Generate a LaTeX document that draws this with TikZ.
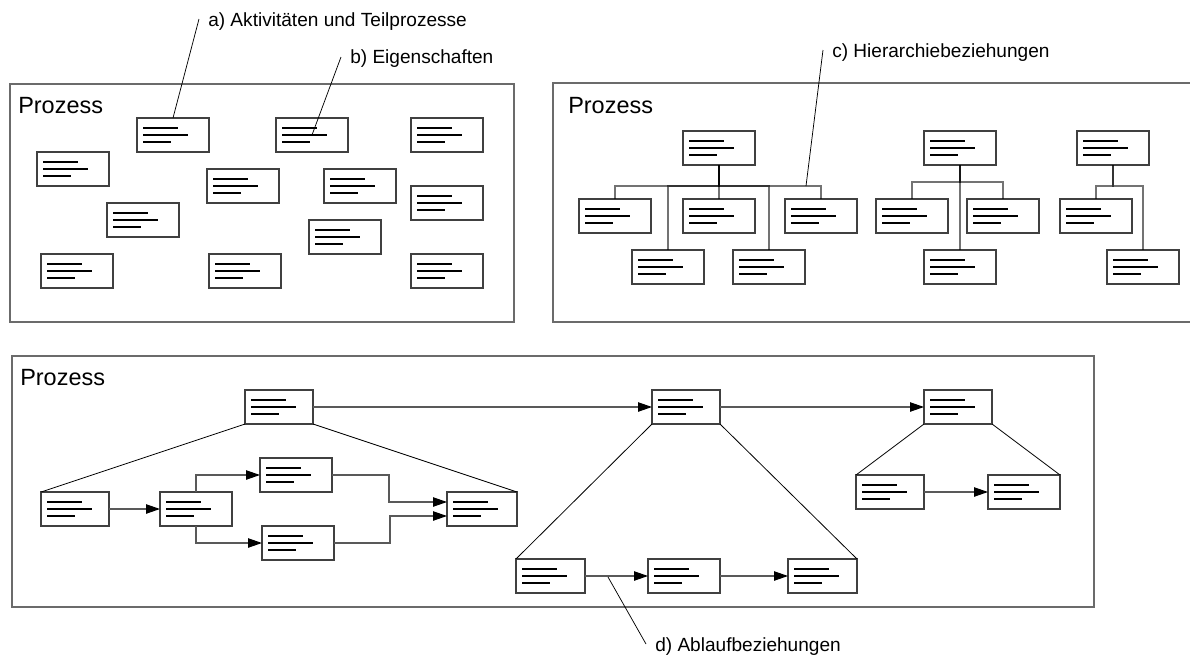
\documentclass[tikz,border=0pt]{standalone}
\usepackage{fontspec}
\setmainfont{Liberation Sans}
\usetikzlibrary{arrows.meta}

\tikzset{
  % activity box with three text bars
  act/.style={rectangle, draw=black!75, line width=0.8pt, inner sep=0pt, outer sep=0pt,
    anchor=north west, minimum width=#1*0.75pt, minimum height=25.5pt,
    path picture={
      \draw[line width=1.5pt, black]
        ([shift={(6,10)}]path picture bounding box.north west) -- ++(35,0)
        ([shift={(6,17)}]path picture bounding box.north west) -- ++(45,0)
        ([shift={(6,24)}]path picture bounding box.north west) -- ++(28,0);}},
  act/.default=72,
  frame/.style={draw=black!58, line width=1.1pt},
  ptitle/.style={anchor=base west, inner sep=0pt, font=\fontsize{17.6}{20}\selectfont},
  callout/.style={anchor=base west, inner sep=0pt, font=\fontsize{14.3}{17}\selectfont},
  lead/.style={draw=black, line width=0.55pt},
  tie/.style={draw=black, draw opacity=0.55, line width=0.8pt},
  span/.style={draw=black, line width=0.6pt},
  flow/.style={draw=black!65, line width=0.8pt,
    -{Triangle[length=10.4pt, width=7pt, color=black]}},
}

\begin{document}
\begin{tikzpicture}[x=0.75pt, y=-0.75pt]
\useasboundingbox (0,0) rectangle (1190,657);

% ---------- panel a/b: loose activities ----------
\draw[frame] (10,84) rectangle (514,322);
\node[ptitle] (p1) at (18,113) {Prozess};
\node[act] (a1)  at (137,118) {};
\node[act] (a2)  at (276,118) {};
\node[act] (a3)  at (411,118) {};
\node[act] (a4)  at (37,152)  {};
\node[act] (a5)  at (207,169) {};
\node[act] (a6)  at (324,169) {};
\node[act] (a7)  at (411,186) {};
\node[act] (a8)  at (107,203) {};
\node[act] (a9)  at (309,220) {};
\node[act] (a10) at (41,254)  {};
\node[act] (a11) at (209,254) {};
\node[act] (a12) at (411,254) {};

\node[callout] (la) at (208,26) {a) Aktivitäten und Teilprozesse};
\node[callout] (lb) at (350,63) {b) Eigenschaften};
\coordinate (ka) at (199,19);
\coordinate (kb) at (341,57);
\draw[lead] (ka) -- (a1.north);
\draw[lead] (kb) -- (a2.center);

% ---------- panel c: hierarchies ----------
\draw[frame] (1192,83) -- (553,83) -- (553,322) -- (1192,322);
\node[ptitle] (p2) at (568,113) {Prozess};

\node[act] (r1)  at (683,131) {};
\node[act] (c11) at (579,199) {};
\node[act] (c12) at (683,199) {};
\node[act] (c13) at (785,199) {};
\node[act] (c14) at (632,250) {};
\node[act] (c15) at (733,250) {};
\foreach \c in {c11,c12,c13,c14,c15}
  \draw[tie] (r1.south) -- ++(0,21) -| (\c.north);

\node[act] (r2)  at (924,131) {};
\node[act] (c21) at (876,199) {};
\node[act] (c22) at (967,199) {};
\node[act] (c23) at (924,250) {};
\foreach \c in {c21,c22,c23}
  \draw[tie] (r2.south) -- ++(0,17) -| (\c.north);

\node[act] (r3)  at (1077,131) {};
\node[act] (c31) at (1060,199) {};
\node[act] (c32) at (1107,250) {};
\foreach \c in {c31,c32}
  \draw[tie] (r3.south) -- ++(0,21) -| (\c.north);

\node[callout] (lc) at (832,57) {c) Hierarchiebeziehungen};
\coordinate (kc) at (823,50);
\coordinate (bus1) at (806,186);
\draw[lead] (kc) -- (bus1);

% ---------- panel d: sequences ----------
\draw[frame] (12,356) rectangle (1094,607);
\node[ptitle] (p3) at (20,385) {Prozess};

\node[act=68] (b1) at (245,390) {};
\node[act=68] (b2) at (652,390) {};
\node[act=68] (b3) at (924,390) {};
\draw[flow] (b1.east) -- (b2.west);
\draw[flow] (b2.east) -- (b3.west);

% refinement of the first step
\node[act=68] (s1) at (41,492)  {};
\node[act]    (s2) at (160,492) {};
\node[act]    (s3) at (260,458) {};
\node[act]    (s4) at (262,526) {};
\node[act=70] (s5) at (447,492) {};
\draw[span] (b1.south west) -- (s1.north west);
\draw[span] (b1.south east) -- (s5.north east);
\draw[flow] (s1.east) -- (s2.west);
\draw[flow] (s2.north) |- (s3.west);
\draw[flow] (s2.south) |- (s4.west);
\draw[flow] (s3.east) -- ++(57,0) |- ([yshift=5.25pt]s5.west);
\draw[flow] (s4.east) -- ++(56,0) |- ([yshift=-5.25pt]s5.west);

% refinement of the second step
\node[act=69] (t1) at (516,559) {};
\node[act]    (t2) at (648,559) {};
\node[act=69] (t3) at (788,559) {};
\draw[span] (b2.south west) -- (t1.north west);
\draw[span] (b2.south east) -- (t3.north east);
\draw[flow] (t1.east) -- (t2.west);
\draw[flow] (t2.east) -- (t3.west);

% refinement of the third step
\node[act=68] (u1) at (856,475) {};
\node[act]    (u2) at (988,475) {};
\draw[span] (b3.south west) -- (u1.north west);
\draw[span] (b3.south east) -- (u2.north east);
\draw[flow] (u1.east) -- (u2.west);

\node[callout] (ld) at (655,651) {d) Ablaufbeziehungen};
\coordinate (kd) at (646,644);
\coordinate (seq1) at (608,577);
\draw[lead] (kd) -- (seq1);
\end{tikzpicture}
\end{document}
